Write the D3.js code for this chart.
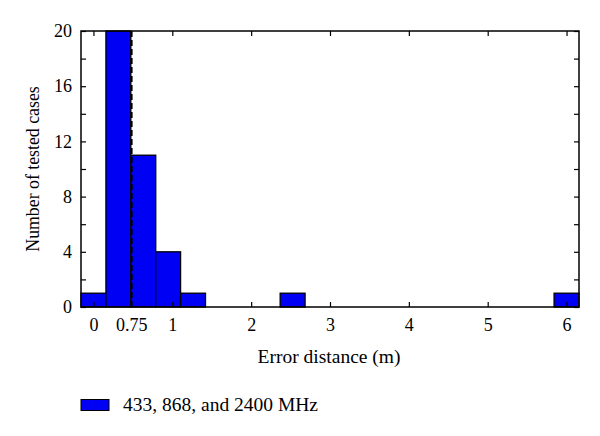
<!DOCTYPE html>
<html>
<head>
<meta charset="utf-8">
<script src="https://cdn.jsdelivr.net/npm/d3@7"></script>
<style>
  html, body { margin: 0; padding: 0; background: #fff; }
  svg { display: block; font-family: "Liberation Serif", "Times New Roman", serif; }
</style>
</head>
<body>
<svg id="chart" width="600" height="436"></svg>
<script>
// ---- data ----
const binCenters = [0, 0.316, 0.632, 0.947, 1.263, 2.526, 6.0];
const binCounts  = [1, 20, 11, 4, 1, 1, 1];
const binWidth = 0.316;
const xDomain = [-0.158, 6.158];
const yDomain = [0, 20];
const xTickValues = [0, 0.48, 1, 2, 3, 4, 5, 6];
const xTickLabels = ["0", "0.75", "1", "2", "3", "4", "5", "6"];
const xMajorTicks = [0, 1, 2, 3, 4, 5, 6];
const yTickValues = [0, 2, 4, 6, 8, 10, 12, 14, 16, 18, 20];
const yTickLabels = ["0", "", "4", "", "8", "", "12", "", "16", "", "20"];
const meanLineX = 0.48;
const seriesName = "433, 868, and 2400 MHz";
const xTitle = "Error distance (m)";
const yTitle = "Number of tested cases";

// ---- layout ----
const L = 81, R = 579, T = 31, B = 307;
const svg = d3.select("#chart");
const x = d3.scaleLinear().domain(xDomain).range([L, R]);
const y = d3.scaleLinear().domain(yDomain).range([B, T]);
const blue = "#0000f5";
const fs = 18;

// bars
svg.append("g").selectAll("rect")
  .data(binCenters.map((c, i) => ({c, n: binCounts[i]})))
  .join("rect")
  .attr("x", d => x(d.c - binWidth / 2))
  .attr("width", d => x(d.c + binWidth / 2) - x(d.c - binWidth / 2))
  .attr("y", d => y(d.n))
  .attr("height", d => y(0) - y(d.n))
  .attr("fill", blue)
  .attr("stroke", "#000")
  .attr("stroke-width", 1.3);

// dashed mean line
svg.append("line")
  .attr("x1", x(meanLineX)).attr("x2", x(meanLineX))
  .attr("y1", y(yDomain[0])).attr("y2", y(yDomain[1]))
  .attr("stroke", "#000").attr("stroke-width", 2.6)
  .attr("stroke-dasharray", "6,3");

// axes
function styleAxis(g) {
  g.select(".domain").remove();
  g.selectAll(".tick line").attr("stroke", "#000").attr("stroke-width", 1.2);
  g.selectAll(".tick text").attr("fill", "#000").style("font-size", fs + "px")
   .style("font-family", "Liberation Serif, serif");
}
const xAxis = svg.append("g").attr("transform", `translate(0,${B})`)
  .call(d3.axisBottom(x).tickValues(xTickValues)
    .tickFormat((d, i) => xTickLabels[i]).tickSizeInner(-5).tickSizeOuter(0).tickPadding(11))
  .call(styleAxis);
xAxis.selectAll(".tick line").filter(d => !xMajorTicks.includes(d)).remove();

svg.append("g").attr("transform", `translate(0,${T})`)
  .call(d3.axisTop(x).tickValues(xMajorTicks).tickFormat("").tickSizeInner(-5).tickSizeOuter(0))
  .call(styleAxis);

svg.append("g").attr("transform", `translate(${L},0)`)
  .call(d3.axisLeft(y).tickValues(yTickValues)
    .tickFormat((d, i) => yTickLabels[i]).tickSizeInner(-5).tickSizeOuter(0).tickPadding(9))
  .call(styleAxis);

svg.append("g").attr("transform", `translate(${R},0)`)
  .call(d3.axisRight(y).tickValues(yTickValues).tickFormat("").tickSizeInner(-5).tickSizeOuter(0))
  .call(styleAxis);

// frame
svg.append("rect").attr("x", L).attr("y", T).attr("width", R - L).attr("height", B - T)
  .attr("fill", "none").attr("stroke", "#000").attr("stroke-width", 1.5);

// titles
svg.append("text").attr("x", (L + R) / 2 - 1).attr("y", 363)
  .attr("text-anchor", "middle").style("font-size", "19.5px").text(xTitle);
svg.append("text").attr("transform", `translate(39,${(T + B) / 2}) rotate(-90)`)
  .attr("text-anchor", "middle").style("font-size", "17.8px").text(yTitle);

// legend
const lg = svg.append("g");
lg.append("rect").attr("x", 81).attr("y", 399.5).attr("width", 28).attr("height", 11)
  .attr("fill", blue).attr("stroke", "#000").attr("stroke-width", 1);
lg.append("text").attr("x", 123).attr("y", 411).style("font-size", "19.5px").text(seriesName);
</script>
</body>
</html>
